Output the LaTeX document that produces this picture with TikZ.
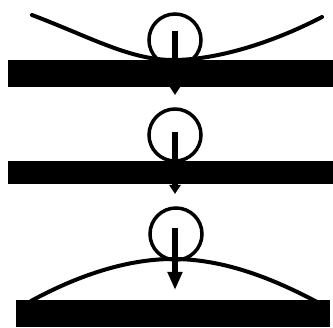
\documentclass[tikz,border=0pt]{standalone}
\usetikzlibrary{arrows.meta}
\begin{document}
\begin{tikzpicture}[x=1pt,y=-1pt,
  bar/.style={fill=black},
  ball/.style={draw=black,line width=3.5pt},
  spring/.style={draw=black,line width=4pt,line cap=round},
  smallarrow/.style={draw=black,line width=6.5pt,-{Triangle[width=11pt,length=9pt]}},
  bigarrow/.style={draw=black,line width=6pt,-{Triangle[width=14pt,length=18pt]}}]
\useasboundingbox (0,0) rectangle (333,328);
% panel 1
\draw[spring] (32,15) .. controls (90,37) and (130,60) .. (173,60)
  .. controls (215,60) and (270,44) .. (322,17);
\fill[bar] (8,60) rectangle (333,87);
\draw[ball] (175,40) circle[radius=26];
\coordinate (s1) at (175,31);
\coordinate (t1) at (175,95);
\draw[smallarrow] (s1) -- (t1);
% panel 2
\fill[bar] (8,161) rectangle (333,184);
\draw[ball] (175,135) circle[radius=26];
\coordinate (s2) at (175,132);
\coordinate (t2) at (175,194);
\draw[smallarrow] (s2) -- (t2);
% panel 3
\fill[bar] (16,300) rectangle (330,327);
\draw[spring] (31,301) .. controls (75,277) and (125,259) .. (173,259)
  .. controls (222,259) and (270,277) .. (317,302);
\draw[ball] (176,234) circle[radius=26];
\coordinate (s3) at (175,228);
\coordinate (t3) at (175,290);
\draw[bigarrow] (s3) -- (t3);
\end{tikzpicture}
\end{document}
